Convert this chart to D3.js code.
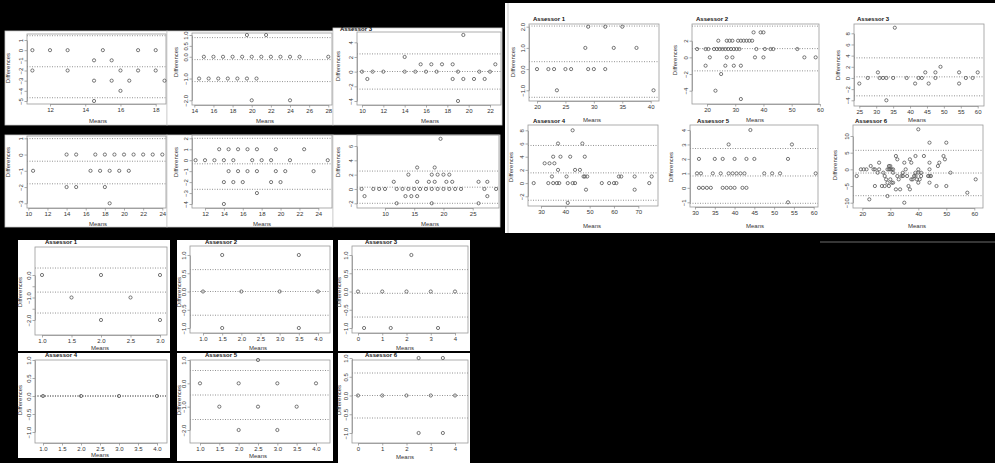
<!DOCTYPE html>
<html>
<head>
<meta charset="utf-8">
<script src="https://cdn.jsdelivr.net/npm/d3@7"></script>
<style>body{margin:0;background:#000;overflow:hidden}</style>
</head>
<body>
<script>
// ---- data: [mean, difference] pairs, agreement limits [upper, mean, lower], ticks ----
// top-left block (6 panels, no titles)
const tl1 = [[11,0],[12,0],[13,0],[15,0],[17,0],[18,0],[14.5,-1],[15.5,-1],[11,-2],[13,-2],[16,-2],[17,-2],[18,-2],
  [14.5,-3],[15.5,-3],[16.5,-3],[18.5,-3],[16,-4],[14.5,-5]];
const tl1Lim = [1.42, -1.63, -4.68];
const tl1X = [12,14,16,18], tl1Y = [-5,-4,-3,-2,-1,0,1];

const tl2 = [[19.5,1],[21.5,1],[15,0],[16,0],[17,0],[18,0],[19,0],[20,0],[21,0],[22,0],[23,0],[24,0],[25,0],[28,0],
  [14.5,-1],[15.5,-1],[16.5,-1],[17.5,-1],[18.5,-1],[19.5,-1],[20.5,-1],[20,-2],[24,-2]];
const tl2Lim = [0.88, -0.13, -1.14];
const tl2X = [14,16,18,20,22,24,26,28], tl2Y = [-2,-1,0,0.5,1];

const tl3 = [[10,0],[11,0],[12,0],[14,0],[15,0],[16,0],[17,0],[19,0],[21,0],[22,0],
  [15.5,1],[16.5,1],[17.5,1],[18.5,1],[22.5,1],[10.5,-1],[18.5,-1],[19.5,-1],[20.5,-1],[21.5,-1],
  [14,2],[19.5,5],[19,-4]];
const tl3Lim = [2.42, 0.02, -2.38];
const tl3X = [10,12,14,16,18,20,22], tl3Y = [-4,-2,0,2,4];

const tl4 = [[14,0],[15,0],[17,0],[18,0],[19,0],[20,0],[21,0],[22,0],[23,0],[24,0],
  [10.5,-1],[16.5,-1],[17.5,-1],[18.5,-1],[19.5,-1],[20.5,-1],[14,-2],[15,-2],[18,-2],[18.5,-3]];
const tl4Lim = [0.98, -0.41, -1.8];
const tl4X = [10,12,14,16,18,20,22,24], tl4Y = [-3,-2,-1,0,1];

const tl5 = [[13.5,1],[14.5,1],[15.5,1],[16.5,1],[17.5,1],[19.5,1],[22.5,1],
  [11,0],[12,0],[13,0],[14,0],[15,0],[17,0],[18,0],[19,0],[21,0],[25,0],
  [14.5,-1],[15.5,-1],[16.5,-1],[17.5,-1],[19.5,-1],[20.5,-1],[23.5,-1],
  [14,-2],[15,-2],[16,-2],[19,-2],[20,-2],[17.5,-3],[14,-4]];
const tl5Lim = [2.0, -0.33, -2.66];
const tl5X = [12,14,16,18,20,22,24], tl5Y = [-4,-3,-2,-1,0,1,2];

const tl6 = [[6,0],[8,0],[9,0],[10,0],[12,0],[13,0],[14,0],[15,0],[16,0],[17,0],[18,0],[19,0],[20,0],[21,0],[22,0],[23,0],[27,0],[29,0],
  [6.5,-1],[13.5,-1],[14.5,-1],[15.5,-1],[27.5,-1],
  [11.5,1],[15.5,1],[17.5,1],[18.5,1],[20.5,1],[21.5,1],[26,1],[27.5,1],
  [14,2],[18,2],[19,2],[20,2],[21,2],[15.5,3],[18.5,3],[19.5,7],[12,-2],[18,-2],[26,-2]];
const tl6Lim = [2.5, 0.25, -2.0];
const tl6X = [10,15,20,25], tl6Y = [-2,0,2,4,6];

// top-right block: Assessor 1..6
const tr1 = [[20,0],[22,0],[23,0],[25,0],[26,0],[29,0],[30,0],[32,0],[29,2],[32,2],[35,2],
  [28.5,1],[33.5,1],[37.5,1],[23.5,-1],[40.5,-1]];
const tr1Lim = [2.03, 0.35, -1.33];
const tr1X = [20,25,30,35,40], tr1Y = [-1,0,1,2];

const tr2 = [[36.5,3],[39,3],[40,3],
  [24,2],[27,2],[28,2],[29,2],[31,2],[32,2],[33,2],[34,2],[35,2],[36,2],
  [16.5,1],[19.5,1],[20.5,1],[22.5,1],[23.5,1],[24.5,1],[25.5,1],[26.5,1],[27.5,1],[28.5,1],[29.5,1],[30.5,1],[31.5,1],
  [37.5,1],[40.5,1],[42.5,1],[43.5,1],[52,1],
  [21,0],[27,0],[29,0],[37,0],[40,0],[54.5,0],[58.5,0],
  [19.5,-1],[26.5,-1],[29.5,-1],[32,-1],[25,-2],[23,-4],[32,-5]];
const tr2Lim = [3.75, 1.05, -1.62];
const tr2X = [20,30,40,50,60], tr2Y = [-4,-2,0,2];

const tr3 = [[27.5,0],[31,0],[32,0],[33,0],[35,0],[39,0],[42.5,0],[43.5,0],[47.5,0],[56.5,0],[58.5,0],
  [30.5,1],[44.5,1],[47.5,1],[54.5,1],[60,1],[49,2],[25,-1],[41.5,-1],[45.5,-1],[54.5,-1],[33,-4],[35.5,9]];
const tr3Lim = [3.6, 0.2, -3.2];
const tr3X = [25,30,35,40,45,50,55,60], tr3Y = [-4,-2,0,2,4,6,8];

const tr4 = [[43,8],[37,6],[47,6],[35,4],[38,4],[42,4],[48,4],[31.5,3],[33.5,3],[35.5,3],[37,2],[44,2],[46,2],
  [34.5,1],[40.5,1],[47.5,1],[48,1],[49,1],[62,1],[63,1],[68.5,1],[75.5,1],
  [27,0],[33,0],[35,0],[36.5,0],[37.5,0],[41,0],[43,0],[44,0],[55,0],[58,0],[60,0],[61,0],[74.5,0],
  [48.5,-1],[68.5,-1],[41,-3]];
const tr4Lim = [5.7, 1.55, -2.6];
const tr4X = [30,40,50,60,70], tr4Y = [-2,0,2,4,6,8];

const tr5 = [[44,4],[38.5,3],[54.5,3],[31,2],[35,2],[37,2],[40,2],[43,2],[45,2],[53.5,2],
  [30.5,1],[31.5,1],[34.5,1],[36.5,1],[38.5,1],[39.5,1],[40.5,1],[41.5,1],[42.5,1],[47.5,1],[49.5,1],[51.5,1],[60.5,1],
  [31,0],[32,0],[33,0],[34,0],[37,0],[38,0],[39,0],[40,0],[42,0],[43,0],[53.5,-1]];
const tr5Lim = [2.72, 0.82, -1.07];
const tr5X = [30,35,40,45,50,55,60], tr5Y = [-1,0,1,2,3,4];

const tr6 = [[18,-2],[19.5,0],[20.5,0],[21.5,0],[22.5,-9],[23,1],[24,0],[24.5,0],[24.5,-5],[26,2],[25.5,-1],[26,0],
  [27,-5],[28,-5],[27.5,-1],[28,-2],[28.5,-3],[29,-4],[29.5,-5],[29,-8],[29,0],[29.5,0],[30,0],[30.5,0],[31,0],
  [29.5,1],[30,1],[30,-3],[30.5,-4],[31,-4],[31,-1],[32,-6],[32,4],[32.5,3],[32.5,-2],[33,-3],[33.5,-6],
  [34,-2],[34.5,-2],[35,2],[34.5,-1],[35,-10],[35.5,0],[36,-2],[36.5,-5],[37,-6],[37,3],[37.5,2],[37.5,-3],[38,-3],
  [38.5,-2],[39,-2],[39,-1],[39,4],[39.5,-3],[40,0],[40,-1],[40,-4],[40.5,-3],[40,12],[41,-1],[41,-2],[42,4],
  [43.5,-2],[44,-2],[44.5,-2],[44,2],[44,0],[44,-4],[44,8],[46.5,-5],[47,1],[47.5,2],[49,4],[49.5,3],[50,8],
  [50,-5],[51.5,-1],[57.5,-7],[60.5,-3]];
const tr6Lim = [5.7, -1.1, -7.9];
const tr6X = [20,30,40,50,60], tr6Y = [-10,-5,0,5,10];

// bottom-left block: Assessor 1..6, small scale
const bl1 = [[1,0],[1.5,-1],[2,0],[2,-2],[2.5,-1],[3,0],[3,-2]];
const bl1Lim = [0.31, -0.76, -1.69];
const bl1X = [1,1.5,2,2.5,3], bl1Y = [-2,-1.5,-1,-0.5,0];
const bl1YLab = [-2,-1,0];

const bl2 = [[1,0],[2,0],[3,0],[4,0],[1.5,1],[3.5,1],[1.5,-1],[3.5,-1]];
const bl2Lim = [0.6, 0, -0.65];
const bl2X = [1,1.5,2,2.5,3,3.5,4], bl2Y = [-1,-0.5,0,0.5,1];

const bl3 = [[0,0],[1,0],[2,0],[3,0],[4,0],[2.2,1],[0.25,-1],[1.35,-1],[3.3,-1]];
const bl3Lim = [0.6, -0.05, -0.7];
const bl3X = [0,1,2,3,4], bl3Y = [-1,-0.5,0,0.5,1];

const bl4 = [[1,0],[2,0],[3,0],[4,0]];
const bl4Lim = [0, 0, 0];
const bl4X = [1,1.5,2,2.5,3,3.5,4], bl4Y = [-1,-0.5,0,0.5,1];

const bl5 = [[2.5,1],[1,0],[2,0],[3,0],[4,0],[1.5,-1],[2.5,-1],[3.5,-1],[2,-2],[3,-2]];
const bl5Lim = [0.55, -0.5, -1.55];
const bl5X = [1,1.5,2,2.5,3,3.5,4], bl5Y = [-2,-1,0,1];

const bl6 = [[0,0],[1,0],[2,0],[3,0],[4,0],[2.5,1],[3.5,1],[2.5,-1],[3.5,-1]];
const bl6Lim = [0.6, 0, -0.6];
const bl6X = [0,1,2,3,4], bl6Y = [-1,-0.5,0,0.5,1];

const FONT = "'Liberation Sans', Arial, Helvetica, sans-serif";
const W = 995, H = 463;

const svg = d3.select("body").append("svg")
  .attr("width", W).attr("height", H)
  .style("font-family", FONT);

svg.append("rect").attr("width", W).attr("height", H).attr("fill", "#000");

// white sheets behind the panels
function sheet(x0, y0, x1, y1, stroke) {
  svg.append("rect").attr("x", x0).attr("y", y0).attr("width", x1 - x0).attr("height", y1 - y0)
    .attr("fill", "#fff").attr("stroke", stroke || "none").attr("stroke-width", 0.8);
}

function panel(p) {
  const g = svg.append("g");
  const [bx0, by0, bx1, by1] = p.box;
  const x = d3.scaleLinear().domain([p.xt[0], p.xt[p.xt.length - 1]]).range(p.xr);
  const y = d3.scaleLinear().domain([p.yt[0], p.yt[p.yt.length - 1]]).range(p.yr);
  const fs = p.fs || 6;
  const yfmt = d3.format(p.yf || "d");
  const ylab = p.ylab || p.yt;

  // limits of agreement
  p.lim.forEach(v => {
    const yy = y(v);
    if (yy < by0 - 0.5 || yy > by1 + 0.5) return;
    g.append("line").attr("x1", bx0).attr("x2", bx1).attr("y1", yy).attr("y2", yy)
      .attr("stroke", "#777").attr("stroke-width", 0.8).attr("stroke-dasharray", "1,1.5");
  });

  g.append("rect").attr("x", bx0).attr("y", by0).attr("width", bx1 - bx0).attr("height", by1 - by0)
    .attr("fill", "none").attr("stroke", "#999").attr("stroke-width", 0.8);

  const xa = g.append("g").attr("transform", `translate(0,${by1})`)
    .call(d3.axisBottom(x).tickValues(p.xt).tickSize(2.5).tickSizeOuter(0).tickPadding(1.5)
      .tickFormat(d3.format(p.xf || "d")));
  const ya = g.append("g").attr("transform", `translate(${bx0},0)`)
    .call(d3.axisLeft(y).tickValues(p.yt).tickSize(2.5).tickSizeOuter(0)
      .tickFormat(d => ylab.includes(d) ? yfmt(d) : ""));
  ya.selectAll(".tick text")
    .attr("transform", "rotate(-90)").attr("x", 0).attr("y", -4).attr("dy", 0)
    .attr("text-anchor", "middle");
  [xa, ya].forEach(a => {
    a.select(".domain").attr("stroke", "#888").attr("stroke-width", 0.7);
    a.selectAll(".tick line").attr("stroke", "#888").attr("stroke-width", 0.7);
    a.selectAll(".tick text").attr("fill", "#333").style("font-size", fs + "px").style("font-family", FONT);
  });

  g.selectAll("circle.pt").data(p.pts).join("circle").attr("class", "pt")
    .attr("cx", d => x(d[0])).attr("cy", d => y(d[1]))
    .attr("r", p.r || 1.6).attr("fill", "none").attr("stroke", "#555").attr("stroke-width", 0.8);

  g.append("text").attr("x", p.ml[0]).attr("y", p.ml[1]).attr("text-anchor", "middle")
    .attr("fill", "#333").style("font-size", fs + "px").text("Means");
  g.append("text").attr("transform", `translate(${p.dl[0]},${p.dl[1]}) rotate(-90)`)
    .attr("text-anchor", "middle").attr("fill", "#333").style("font-size", fs + "px").text("Differences");
  if (p.title) {
    g.append("text").attr("x", p.tp[0]).attr("y", p.tp[1]).attr("fill", "#111")
      .style("font-size", fs + "px").style("font-weight", "bold").text(p.title);
  }
}

// ---- top-left block ----
sheet(5, 31, 167, 125, "#ccc");
sheet(167, 31, 333, 125, "#ccc");
sheet(333, 28, 502, 125, "#ccc");
sheet(5, 135, 167, 227, "#ccc");
sheet(167, 135, 333, 227, "#ccc");
sheet(333, 135, 500, 227, "#ccc");

panel({pts: tl1, lim: tl1Lim, xt: tl1X, yt: tl1Y, box: [27, 34, 166, 104], xr: [50, 155.7], yr: [101, 40], ml: [98, 123], dl: [10, 68]});
panel({pts: tl2, lim: tl2Lim, xt: tl2X, yt: tl2Y, yf: ".1f", box: [192, 33, 332, 105], xr: [194.3, 328.3], yr: [100.3, 35], ml: [265, 123], dl: [178, 62]});
panel({pts: tl3, lim: tl3Lim, xt: tl3X, yt: tl3Y, box: [357, 32, 501, 105], xr: [362, 490], yr: [101, 42.3], ml: [430, 123], dl: [340, 66],
  title: "Assessor 3", tp: [340, 31]});
panel({pts: tl4, lim: tl4Lim, xt: tl4X, yt: tl4Y, box: [27, 136, 166, 208], xr: [28.3, 162.3], yr: [203.3, 138.3], ml: [98, 226], dl: [10, 162]});
panel({pts: tl5, lim: tl5Lim, xt: tl5X, yt: tl5Y, box: [192, 135, 332, 208], xr: [205, 318.3], yr: [204, 138.3], ml: [262, 226], dl: [178, 162]});
panel({pts: tl6, lim: tl6Lim, xt: tl6X, yt: tl6Y, box: [357, 135, 499, 208], xr: [385, 472.7], yr: [203.3, 146], ml: [430, 226], dl: [340, 162]});

// ---- top-right block ----
sheet(505, 3, 995, 233);
svg.append("line").attr("x1", 508).attr("x2", 508).attr("y1", 3).attr("y2", 233).attr("stroke", "#bbb").attr("stroke-width", 0.8);
svg.append("line").attr("x1", 820).attr("x2", 995).attr("y1", 242).attr("y2", 242).attr("stroke", "#888").attr("stroke-width", 0.8);

panel({pts: tr1, lim: tr1Lim, xt: tr1X, yt: tr1Y, yf: ".1f", box: [529, 24, 659, 101], xr: [537, 650.7], yr: [90.3, 26.7], ml: [592, 122], dl: [515, 62],
  title: "Assessor 1", tp: [533, 21]});
panel({pts: tr2, lim: tr2Lim, xt: tr2X, yt: tr2Y, box: [692, 24, 819, 104], xr: [707, 819.9], yr: [90.7, 40.7], ml: [755, 122], dl: [677, 60],
  title: "Assessor 2", tp: [696, 21]});
panel({pts: tr3, lim: tr3Lim, xt: tr3X, yt: tr3Y, box: [854, 24, 984, 106], xr: [859.3, 977.7], yr: [100.3, 33.3], ml: [917, 122], dl: [840, 65],
  title: "Assessor 3", tp: [857, 21]});
panel({pts: tr4, lim: tr4Lim, xt: tr4X, yt: tr4Y, box: [528, 125, 658, 206], xr: [541, 638.3], yr: [196.3, 130.3], ml: [592, 228], dl: [513, 167],
  title: "Assessor 4", tp: [533, 123]});
panel({pts: tr5, lim: tr5Lim, xt: tr5X, yt: tr5Y, box: [690, 125, 818, 207], xr: [695, 813.7], yr: [202.3, 130], ml: [755, 228], dl: [673, 167],
  title: "Assessor 5", tp: [697, 123]});
panel({pts: tr6, lim: tr6Lim, xt: tr6X, yt: tr6Y, box: [853, 125, 983, 208], xr: [862.3, 974.3], yr: [202.7, 136], ml: [917, 228], dl: [837, 165],
  title: "Assessor 6", tp: [855, 123]});

// ---- bottom-left block ----
sheet(18, 240, 170, 351);
sheet(177, 240, 333, 351);
sheet(338, 240, 470, 351);
sheet(18, 353, 170, 458);
sheet(177, 353, 333, 461);
sheet(338, 353, 470, 463);

panel({pts: bl1, lim: bl1Lim, xt: bl1X, yt: bl1Y, ylab: bl1YLab, xf: ".1f", yf: ".1f", box: [35, 247, 167, 335], xr: [42, 160], yr: [320, 275], ml: [100, 350], dl: [22, 292],
  title: "Assessor 1", tp: [45, 244]});
panel({pts: bl2, lim: bl2Lim, xt: bl2X, yt: bl2Y, xf: ".1f", yf: ".1f", box: [190, 246, 330, 333], xr: [203, 318], yr: [328, 255], ml: [258, 350], dl: [181, 292],
  title: "Assessor 2", tp: [205, 244]});
panel({pts: bl3, lim: bl3Lim, xt: bl3X, yt: bl3Y, yf: ".1f", box: [352, 246, 468, 333], xr: [358, 455], yr: [328, 255], ml: [405, 350], dl: [341, 292],
  title: "Assessor 3", tp: [365, 244]});
panel({pts: bl4, lim: bl4Lim, xt: bl4X, yt: bl4Y, xf: ".1f", yf: ".1f", box: [35, 360, 167, 443], xr: [43, 157], yr: [432, 360], ml: [100, 457], dl: [22, 400],
  title: "Assessor 4", tp: [45, 357]});
panel({pts: bl5, lim: bl5Lim, xt: bl5X, yt: bl5Y, xf: ".1f", yf: ".1f", box: [190, 360, 330, 443], xr: [200, 316], yr: [430, 360], ml: [258, 458], dl: [181, 400],
  title: "Assessor 5", tp: [205, 357]});
panel({pts: bl6, lim: bl6Lim, xt: bl6X, yt: bl6Y, yf: ".1f", box: [352, 360, 468, 443], xr: [358, 455], yr: [433, 358], ml: [405, 459], dl: [341, 400],
  title: "Assessor 6", tp: [365, 357]});
</script>
</body>
</html>
